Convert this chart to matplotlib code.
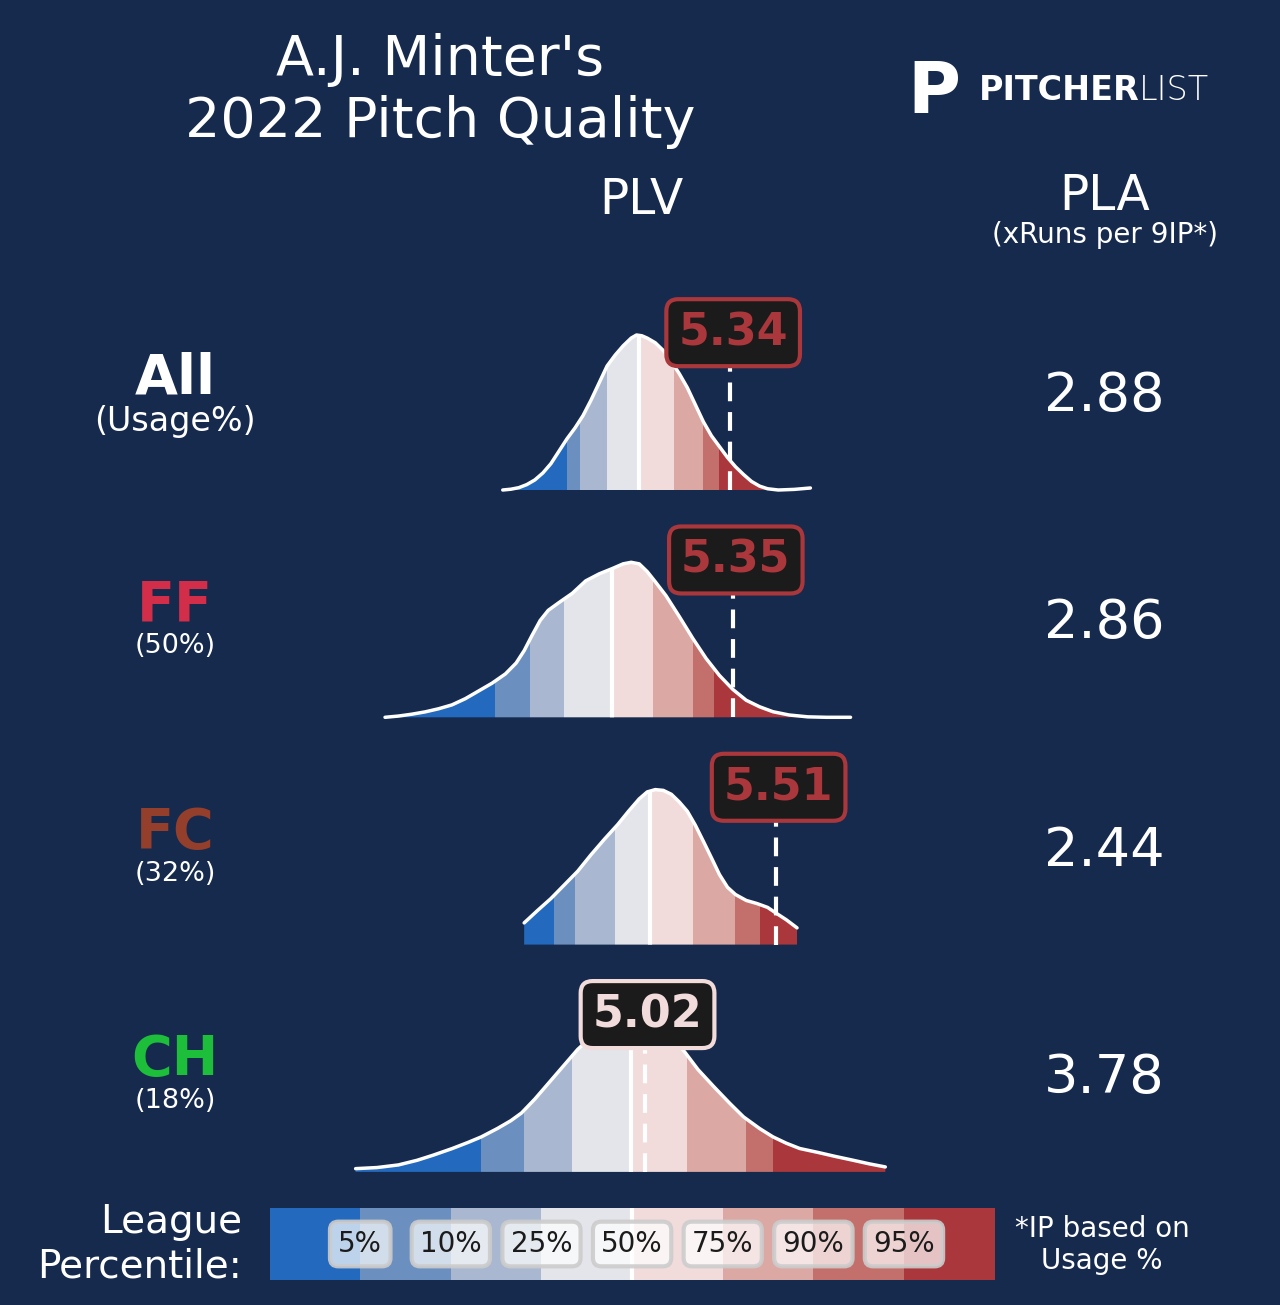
import matplotlib
matplotlib.use('Agg')
import matplotlib.pyplot as plt
from matplotlib.patches import Polygon
from matplotlib.transforms import offset_copy
import numpy as np

W, H = 1280, 1305
BG = '#162a4e'

player = "A.J. Minter's"
season = 2022

pitch_types = ['All', 'FF', 'FC', 'CH']
pitch_colors = ['white', '#d22d49', '#933f2c', '#1dbe3a']
usage = ['Usage%', '50%', '32%', '18%']
plv = [5.34, 5.35, 5.51, 5.02]
pla = [2.88, 2.86, 2.44, 3.78]

pct_labels = ['5%', '10%', '25%', '50%', '75%', '90%', '95%']
band_colors = ['#2369bd', '#6b8fbf', '#a9b8d0', '#e4e5ea',
               '#f2dcdb', '#dba8a4', '#c3706c', '#a9373b']

# league PLV percentiles (5,10,25,50,75,90,95) per pitch type
all_pct = [4.73, 4.78, 4.88, 5.00, 5.13, 5.24, 5.30]
ff_pct = [4.46, 4.59, 4.72, 4.90, 5.05, 5.20, 5.28]
fc_pct = [4.68, 4.76, 4.91, 5.04, 5.20, 5.36, 5.45]
ch_pct = [4.41, 4.57, 4.75, 4.97, 5.18, 5.40, 5.50]

# league PLV density curves (scaled to peak = 1)
all_x = [4.49, 4.52, 4.55, 4.58, 4.61, 4.64, 4.67, 4.70, 4.73, 4.76, 4.79, 4.82, 4.85,
         4.88, 4.91, 4.94, 4.97, 4.99, 5.01, 5.03, 5.06, 5.09, 5.12, 5.15, 5.18, 5.21,
         5.24, 5.27, 5.30, 5.33, 5.36, 5.39, 5.42, 5.45, 5.48, 5.52, 5.58, 5.64]
all_y = [0.0, 0.005, 0.015, 0.035, 0.065, 0.11, 0.17, 0.25, 0.33, 0.40, 0.48, 0.58, 0.69,
         0.80, 0.87, 0.93, 0.98, 1.0, 0.995, 0.98, 0.95, 0.9, 0.83, 0.75, 0.66, 0.55,
         0.44, 0.35, 0.28, 0.21, 0.15, 0.10, 0.055, 0.025, 0.008, 0.0, 0.004, 0.013]

ff_x = [4.05, 4.10, 4.15, 4.20, 4.25, 4.30, 4.35, 4.40, 4.45, 4.50, 4.54, 4.57, 4.60,
        4.63, 4.66, 4.70, 4.75, 4.80, 4.85, 4.90, 4.94, 4.97, 5.00, 5.03, 5.06, 5.10,
        5.15, 5.20, 5.25, 5.30, 5.35, 5.40, 5.45, 5.50, 5.56, 5.63, 5.70, 5.79]
ff_y = [0.0, 0.008, 0.02, 0.035, 0.055, 0.08, 0.12, 0.17, 0.22, 0.28, 0.35, 0.43, 0.53,
        0.625, 0.69, 0.74, 0.80, 0.88, 0.925, 0.96, 0.99, 1.0, 0.99, 0.94, 0.875, 0.785,
        0.65, 0.51, 0.38, 0.27, 0.18, 0.11, 0.068, 0.036, 0.015, 0.003, 0.0, 0.0]

fc_x = [4.57, 4.62, 4.67, 4.72, 4.77, 4.82, 4.87, 4.92, 4.96, 5.00, 5.03, 5.06, 5.09,
        5.12, 5.15, 5.18, 5.21, 5.24, 5.27, 5.30, 5.33, 5.36, 5.40, 5.44, 5.48, 5.51,
        5.55, 5.59]
fc_y = [0.14, 0.22, 0.297, 0.385, 0.473, 0.58, 0.68, 0.775, 0.86, 0.94, 0.985, 1.0, 0.995,
        0.97, 0.92, 0.86, 0.77, 0.666, 0.56, 0.452, 0.37, 0.323, 0.285, 0.265, 0.24, 0.205,
        0.16, 0.108]

ch_x = [3.94, 4.02, 4.10, 4.17, 4.23, 4.30, 4.36, 4.41, 4.47, 4.52, 4.56, 4.61, 4.66,
        4.72, 4.77, 4.82, 4.87, 4.92, 4.97, 5.02, 5.07, 5.12, 5.17, 5.22, 5.28, 5.34,
        5.39, 5.45, 5.50, 5.55, 5.60, 5.67, 5.73, 5.80, 5.86, 5.92]
ch_y = [0.021, 0.028, 0.045, 0.075, 0.108, 0.15, 0.19, 0.226, 0.28, 0.33, 0.38, 0.47, 0.57,
        0.69, 0.79, 0.87, 0.935, 0.98, 1.0, 0.99, 0.95, 0.87, 0.774, 0.66, 0.548, 0.44,
        0.355, 0.28, 0.226, 0.185, 0.151, 0.125, 0.101, 0.075, 0.052, 0.032]

pcts = [all_pct, ff_pct, fc_pct, ch_pct]
curves = [(all_x, all_y), (ff_x, ff_y), (fc_x, fc_y), (ch_x, ch_y)]

XMIN, XMAX = 3.62, 6.33


def fy(y):
    return 1 - y / H


fig = plt.figure(figsize=(W / 100, H / 100), dpi=100, facecolor=BG)

# header
fig.text(440 / W, fy(75), player, ha='center', va='baseline', fontsize=40, color='white')
fig.text(440 / W, fy(137), f'{season} Pitch Quality', ha='center', va='baseline',
         fontsize=40, color='white')
fig.text(641 / W, fy(214), 'PLV', ha='center', va='baseline', fontsize=35, color='white')
fig.text(1105 / W, fy(210), 'PLA', ha='center', va='baseline', fontsize=35, color='white')
fig.text(1105 / W, fy(243), '(xRuns per 9IP*)', ha='center', va='baseline',
         fontsize=20, color='white')

# logo
fig.text(934 / W, fy(113), 'P', ha='center', va='baseline', fontsize=52,
         fontweight='bold', color='white')
fig.text(979 / W, fy(100), 'PITCHER', ha='left', va='baseline', fontsize=24,
         fontweight='bold', color='white')
fig.text(1139 / W, fy(100), 'LIST', ha='left', va='baseline', fontsize=24,
         fontweight='light', color='white')

for i, pt in enumerate(pitch_types):
    base = 490 + i * 227.3
    ax = fig.add_axes([270 / W, fy(base + 0.05 * 155), 725 / W, 1.35 * 155 / H])
    ax.set_xlim(XMIN, XMAX)
    ax.set_ylim(-0.05, 1.3)
    ax.axis('off')

    xs, ys = curves[i]
    verts = [(xs[0], 0)] + list(zip(xs, ys)) + [(xs[-1], 0)]
    poly = Polygon(verts, closed=True, fc='none', ec='none', transform=ax.transData)
    ax.add_patch(poly)

    edges = [XMIN] + pcts[i] + [XMAX]
    for j in range(8):
        span = ax.axvspan(edges[j], edges[j + 1], color=band_colors[j], lw=0, zorder=1)
        span.set_clip_path(poly)
    med = ax.axvline(pcts[i][3], color='white', lw=3, zorder=2)
    med.set_clip_path(poly)
    ax.plot(xs, ys, color='white', lw=2.5, zorder=3, solid_capstyle='round',
            solid_joinstyle='round')

    ax.vlines(plv[i], 0, 1.0, color='white', lw=3, linestyles=[(0, (4.5, 2.6))], zorder=4)
    c = band_colors[np.searchsorted(pcts[i], plv[i])]
    box_tr = offset_copy(ax.transData, fig=fig, x=3, y=0, units='dots')
    ax.text(plv[i], 1.015, f'{plv[i]:.2f}', ha='center', va='center', fontsize=32,
            fontweight='bold', color=c, zorder=6, transform=box_tr,
            bbox=dict(boxstyle='round,pad=0.27', fc='#1b1b1b', ec=c, lw=3))

    # row labels
    fig.text(175 / W, fy(base - 97), pt, ha='center', va='baseline', fontsize=40,
             fontweight='bold', color=pitch_colors[i])
    if i == 0:
        fig.text(175 / W, fy(base - 59), f'({usage[i]})', ha='center', va='baseline',
                 fontsize=24, color='white')
    else:
        fig.text(175 / W, fy(base - 64), f'({usage[i]})', ha='center', va='baseline',
                 fontsize=19.5, color='white')
    fig.text(1104 / W, fy(base - 79), f'{pla[i]:.2f}', ha='center', va='baseline',
             fontsize=39, color='white')

# legend bar
axl = fig.add_axes([269.6 / W, fy(1280), 725 / W, 72 / H])
axl.bar(np.arange(8), 1, width=1, color=band_colors, lw=0)
axl.axvline(3.5, color='white', lw=3)
axl.set_xlim(-0.5, 7.5)
axl.set_ylim(0, 1)
axl.axis('off')
for k, lab in enumerate(pct_labels):
    axl.text(k + 0.5, 0.5, lab, ha='center', va='center', fontsize=20, color='#1b1b1b',
             bbox=dict(boxstyle='round,pad=0.3', fc=(1, 1, 1, 0.7),
                       ec=(0.8, 0.8, 0.8, 0.9), lw=3))

fig.text(242 / W, fy(1233), 'League', ha='right', va='baseline', fontsize=28, color='white')
fig.text(242 / W, fy(1277), 'Percentile:', ha='right', va='baseline', fontsize=28,
         color='white')
fig.text(1102 / W, fy(1237), '*IP based on', ha='center', va='baseline', fontsize=20,
         color='white')
fig.text(1102 / W, fy(1269), 'Usage %', ha='center', va='baseline', fontsize=20,
         color='white')

plt.savefig('out.png', dpi=100, facecolor=BG)
